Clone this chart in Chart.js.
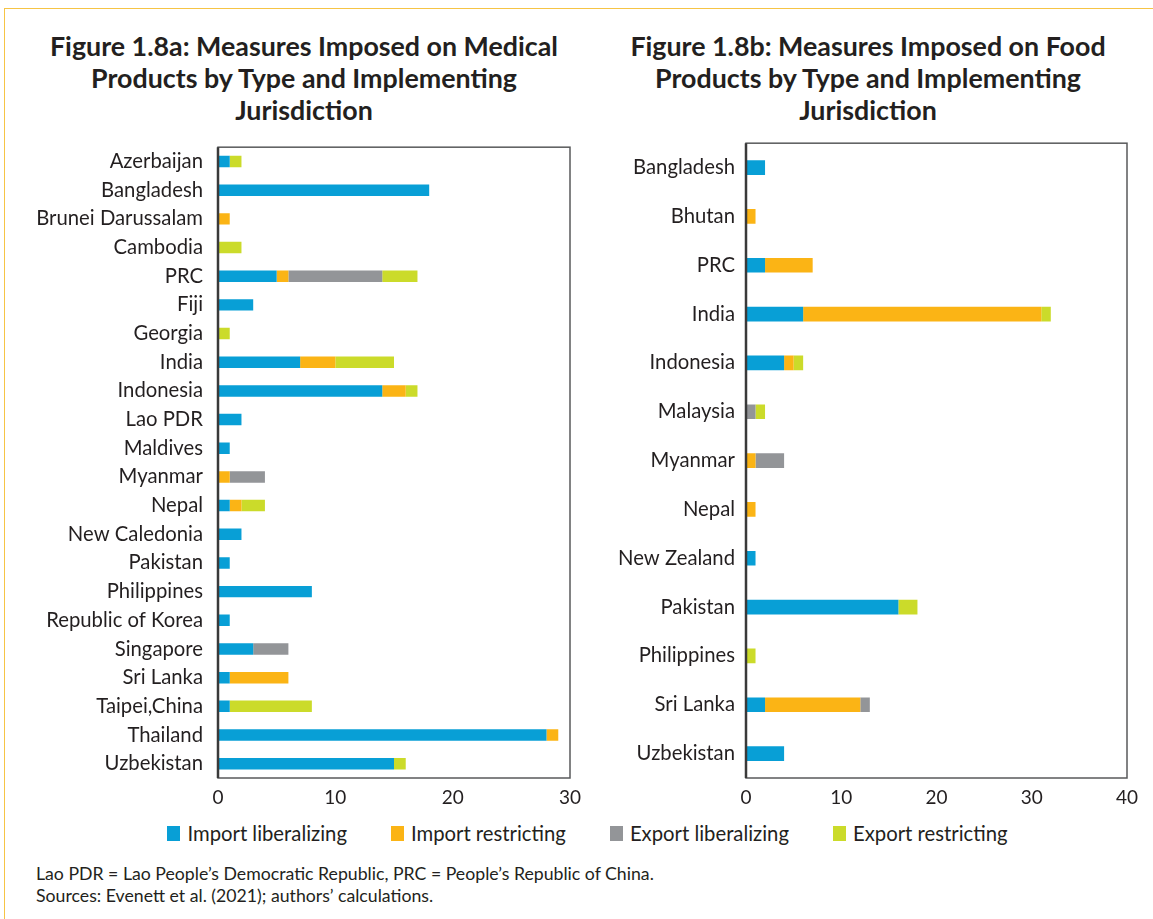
<!DOCTYPE html>
<html>
<head>
<meta charset="utf-8">
<script src="https://cdn.jsdelivr.net/npm/chart.js@4/dist/chart.umd.min.js"></script>
<style>
  html,body{margin:0;padding:0;background:#fff;}
  body{width:1153px;height:919px;position:relative;overflow:hidden;font-family:Lato,"Open Sans",sans-serif;color:#231f20;}
  #frame{position:absolute;left:4px;top:8px;width:1160px;height:1000px;border-top:1.5px solid #f6c445;border-left:1.5px solid #f6c445;}
  .title{position:absolute;font-weight:bold;font-size:26.8px;line-height:32px;text-align:center;color:#231f20;white-space:nowrap;}
  #t1{left:24px;top:30px;width:560px;}
  #t2{left:608px;top:30px;width:520px;}
  #c1wrap{position:absolute;left:0;top:120px;width:600px;height:700px;}
  #c2wrap{position:absolute;left:590px;top:120px;width:563px;height:700px;}
  #legend{position:absolute;left:11px;top:821px;width:1153px;display:flex;justify-content:center;gap:44px;font-size:20.3px;}
  #legend .item{display:flex;align-items:center;}
  #legend .box{width:13px;height:15px;margin-right:7px;}
  #notes{position:absolute;left:36px;top:863px;font-size:17.7px;line-height:22px;color:#231f20;}
</style>
</head>
<body>
<div id="frame"></div>
<div class="title" id="t1">Figure 1.8a: Measures Imposed on Medical<br>Products by Type and Implementing<br>Jurisdiction</div>
<div class="title" id="t2">Figure 1.8b: Measures Imposed on Food<br>Products by Type and Implementing<br>Jurisdiction</div>
<div id="c1wrap"><canvas id="c1"></canvas></div>
<div id="c2wrap"><canvas id="c2"></canvas></div>
<div id="legend"></div>
<div id="notes">Lao PDR = Lao People’s Democratic Republic, PRC = People’s Republic of China.<br>Sources: Evenett et al. (2021); authors’ calculations.</div>
<script>
// ---- Data ----
const seriesNames = ["Import liberalizing", "Import restricting", "Export liberalizing", "Export restricting"];
const seriesColors = ["#089fd6", "#fbb415", "#939598", "#cbdb2a"];

const medCountries = ["Azerbaijan","Bangladesh","Brunei Darussalam","Cambodia","PRC","Fiji","Georgia","India","Indonesia","Lao PDR","Maldives","Myanmar","Nepal","New Caledonia","Pakistan","Philippines","Republic of Korea","Singapore","Sri Lanka","Taipei,China","Thailand","Uzbekistan"];
const medImportLib = [1,18,0,0,5,3,0,7,14,2,1,0,1,2,1,8,1,3,1,1,28,15];
const medImportRes = [0,0,1,0,1,0,0,3,2,0,0,1,1,0,0,0,0,0,5,0,1,0];
const medExportLib = [0,0,0,0,8,0,0,0,0,0,0,3,0,0,0,0,0,3,0,0,0,0];
const medExportRes = [1,0,0,2,3,0,1,5,1,0,0,0,2,0,0,0,0,0,0,7,0,1];
const medTicks = [0,10,20,30];

const foodCountries = ["Bangladesh","Bhutan","PRC","India","Indonesia","Malaysia","Myanmar","Nepal","New Zealand","Pakistan","Philippines","Sri Lanka","Uzbekistan"];
const foodImportLib = [2,0,2,6,4,0,0,0,1,16,0,2,4];
const foodImportRes = [0,1,5,25,1,0,1,1,0,0,0,10,0];
const foodExportLib = [0,0,0,0,0,1,3,0,0,0,0,1,0];
const foodExportRes = [0,0,0,1,1,1,0,0,0,2,1,0,0];
const foodTicks = [0,10,20,30,40];

// ---- Legend ----
const leg = document.getElementById('legend');
seriesNames.forEach((n,i)=>{
  const it=document.createElement('div');it.className='item';
  const b=document.createElement('div');b.className='box';b.style.background=seriesColors[i];
  const s=document.createElement('span');s.textContent=n;
  it.appendChild(b);it.appendChild(s);leg.appendChild(it);
});

const boxPlugin = {
  id:'box',
  afterDraw(chart){
    const a=chart.chartArea, ctx=chart.ctx;
    ctx.save();
    ctx.strokeStyle='#58595b';ctx.lineWidth=1.5;
    ctx.strokeRect(a.left,a.top,a.right-a.left,a.bottom-a.top);
    ctx.strokeStyle='#3a3a3a';ctx.lineWidth=2.5;
    ctx.beginPath();ctx.moveTo(a.left,a.top);ctx.lineTo(a.left,a.bottom);ctx.stroke();
    ctx.restore();
  }
};

function makeChart(id, labels, vals, ticks, yWidth, padRight, barPct, labelPad){
  const datasets = vals.map((v,i)=>({
    label:seriesNames[i], data:v, backgroundColor:seriesColors[i], borderWidth:0,
    barPercentage:barPct, categoryPercentage:1
  }));
  return new Chart(document.getElementById(id), {
    type:'bar',
    data:{labels, datasets},
    plugins:[boxPlugin],
    options:{
      indexAxis:'y', responsive:true, maintainAspectRatio:false, animation:false,
      layout:{padding:{top:16,right:padRight,left:0,bottom:0}},
      plugins:{legend:{display:false}, tooltip:{enabled:false}},
      scales:{
        x:{stacked:true, min:ticks[0], max:ticks[ticks.length-1],
           afterBuildTicks(s){ s.ticks = ticks.map(v=>({value:v})); },
           afterFit(s){ s.height = 42; },
           grid:{display:false, drawTicks:false}, border:{display:false},
           ticks:{padding:8, color:'#231f20', font:{family:'Lato', size:19}}},
        y:{stacked:true,
           afterFit(s){ s.width = yWidth; },
           grid:{display:false, drawTicks:false}, border:{display:false},
           ticks:{padding:labelPad, color:'#231f20', autoSkip:false, font:{family:'Lato', size:20.3}}}
      }
    }
  });
}

makeChart('c1', medCountries, [medImportLib, medImportRes, medExportLib, medExportRes], medTicks, 218, 30, 0.4, 15);
makeChart('c2', foodCountries, [foodImportLib, foodImportRes, foodExportLib, foodExportRes], foodTicks, 156, 26, 0.3, 11);
</script>
</body>
</html>
